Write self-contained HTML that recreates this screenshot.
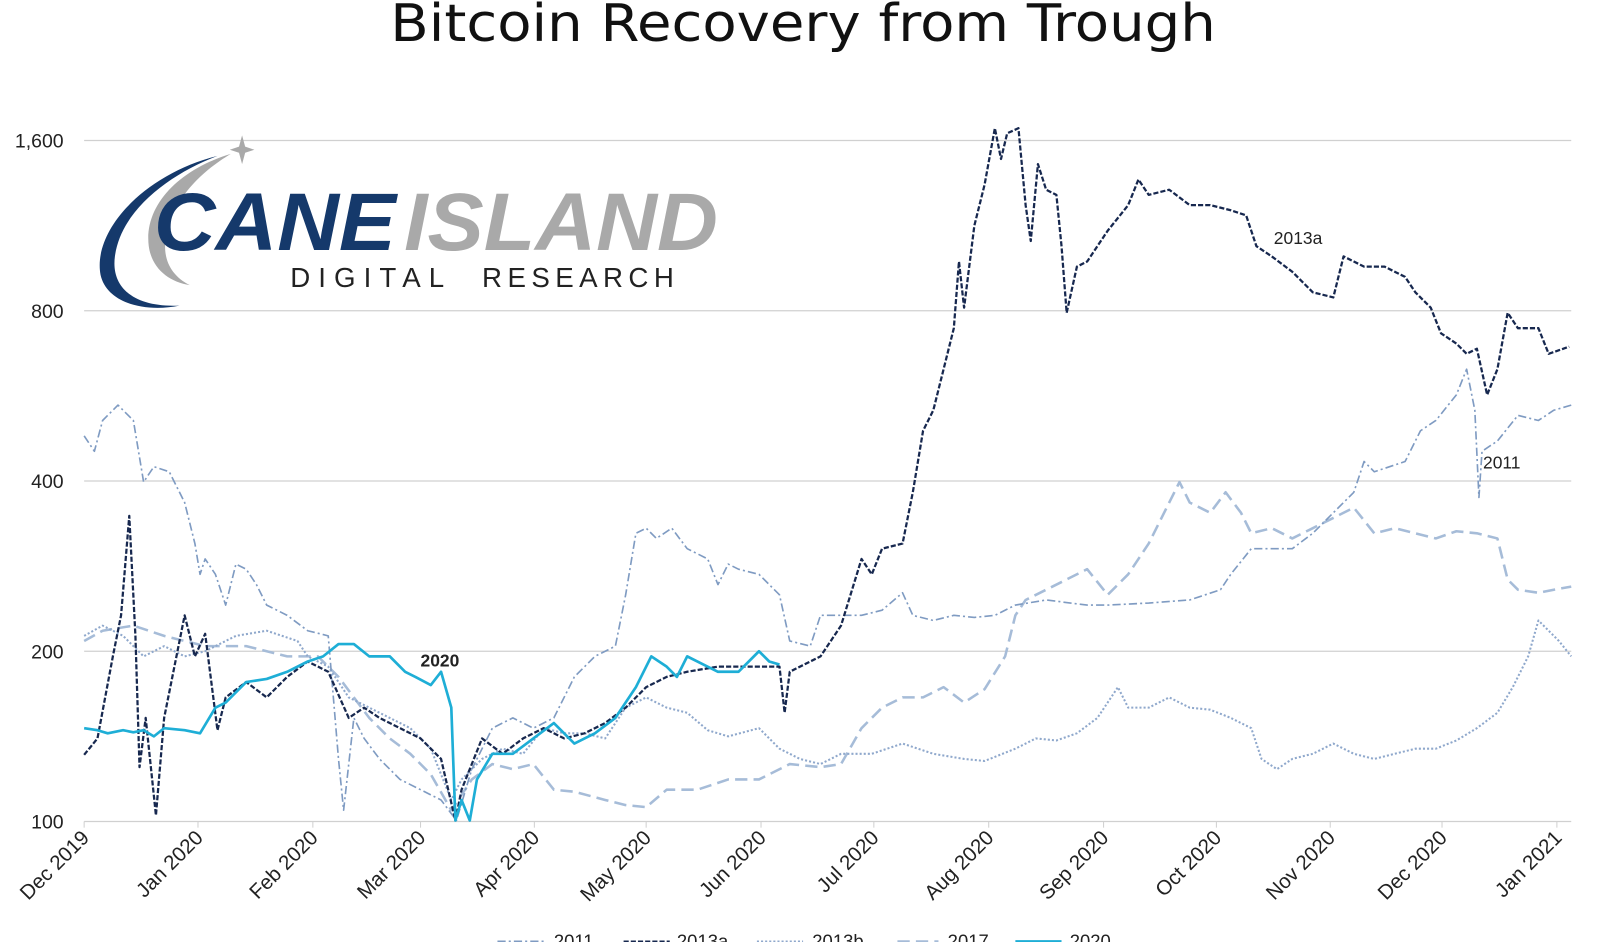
<!DOCTYPE html>
<html><head><meta charset="utf-8"><style>
html,body{margin:0;padding:0;background:#fff;}
svg{display:block;}
text{font-family:"Liberation Sans",sans-serif;}
</style></head><body>
<svg width="1600" height="942" viewBox="0 0 1560 918.5" xmlns="http://www.w3.org/2000/svg">
<rect width="1560" height="918.5" fill="#fff"/>
<text x="783" y="40" font-size="50" text-anchor="middle" fill="#111" style="font-family:'DejaVu Sans',sans-serif" textLength="805" lengthAdjust="spacingAndGlyphs">Bitcoin Recovery from Trough</text>
<g stroke="#d0d0d0" stroke-width="1.3">
<line x1="82" y1="137" x2="1532" y2="137"/><line x1="82" y1="303" x2="1532" y2="303"/>
<line x1="82" y1="469" x2="1532" y2="469"/><line x1="82" y1="635" x2="1532" y2="635"/>
<line x1="82" y1="801" x2="1532" y2="801"/>
<g stroke-width="1">
<line x1="82" y1="801" x2="82" y2="807"/><line x1="193" y1="801" x2="193" y2="807"/><line x1="305" y1="801" x2="305" y2="807"/><line x1="410" y1="801" x2="410" y2="807"/><line x1="521" y1="801" x2="521" y2="807"/><line x1="630" y1="801" x2="630" y2="807"/><line x1="742" y1="801" x2="742" y2="807"/><line x1="852" y1="801" x2="852" y2="807"/><line x1="964" y1="801" x2="964" y2="807"/><line x1="1076" y1="801" x2="1076" y2="807"/><line x1="1186" y1="801" x2="1186" y2="807"/><line x1="1297" y1="801" x2="1297" y2="807"/><line x1="1406" y1="801" x2="1406" y2="807"/><line x1="1518" y1="801" x2="1518" y2="807"/>
</g></g>
<g font-size="19" fill="#222" text-anchor="end">
<text x="62" y="144">1,600</text><text x="62" y="310">800</text><text x="62" y="476">400</text><text x="62" y="642">200</text><text x="62" y="808">100</text>
</g>
<g font-size="20" fill="#222" text-anchor="end">
<text transform="translate(88,818) rotate(-45)">Dec 2019</text>
<text transform="translate(199,818) rotate(-45)">Jan 2020</text>
<text transform="translate(311,818) rotate(-45)">Feb 2020</text>
<text transform="translate(416,818) rotate(-45)">Mar 2020</text>
<text transform="translate(527,818) rotate(-45)">Apr 2020</text>
<text transform="translate(636,818) rotate(-45)">May 2020</text>
<text transform="translate(748,818) rotate(-45)">Jun 2020</text>
<text transform="translate(858,818) rotate(-45)">Jul 2020</text>
<text transform="translate(970,818) rotate(-45)">Aug 2020</text>
<text transform="translate(1082,818) rotate(-45)">Sep 2020</text>
<text transform="translate(1192,818) rotate(-45)">Oct 2020</text>
<text transform="translate(1303,818) rotate(-45)">Nov 2020</text>
<text transform="translate(1412,818) rotate(-45)">Dec 2020</text>
<text transform="translate(1524,818) rotate(-45)">Jan 2021</text>
</g>
<g fill="none" stroke-linejoin="round">
<polyline stroke="#a6bcd8" stroke-width="2.5" stroke-dasharray="12,6" points="82,625 100,615 130,610 160,620 200,630 240,630 280,640 310,640 330,660 360,700 380,720 400,735 420,755 440,790 460,760 480,745 500,750 520,745 540,770 560,772 590,780 610,785 630,787 650,770 680,770 710,760 740,760 770,745 800,748 820,745 840,710 860,690 880,680 900,680 920,670 940,685 960,672 980,640 990,600 1000,585 1020,575 1040,565 1060,555 1080,580 1100,560 1120,530 1140,490 1150,470 1160,490 1180,500 1195,480 1210,500 1220,520 1240,515 1260,525 1280,515 1300,505 1320,495 1340,520 1360,515 1380,520 1400,525 1420,518 1440,520 1460,525 1470,565 1480,575 1500,578 1515,575 1532,572"/>
<polyline stroke="#8fa8cc" stroke-width="2" stroke-dasharray="2,2" points="82,620 100,610 120,620 140,640 160,630 180,640 200,635 230,620 260,615 290,625 300,640 320,650 340,680 360,690 380,700 400,710 420,730 440,780 450,760 470,740 490,730 510,735 530,710 550,715 570,715 590,720 610,690 630,680 650,690 670,695 690,712 710,718 740,710 760,730 780,740 800,745 820,735 850,735 880,725 910,735 940,740 960,742 990,730 1010,720 1030,722 1050,715 1070,700 1090,670 1100,690 1120,690 1140,680 1160,690 1180,692 1200,700 1220,710 1230,740 1245,750 1260,740 1280,735 1300,725 1320,735 1340,740 1360,735 1380,730 1400,730 1420,722 1440,710 1460,695 1475,670 1490,640 1500,605 1510,615 1520,625 1532,640"/>
<polyline stroke="#7f9bc2" stroke-width="1.6" stroke-dasharray="8,3,2,3" points="82,425 92,440 100,410 115,395 130,410 140,470 150,455 165,460 180,490 190,530 195,560 200,545 210,560 220,590 230,550 240,555 250,570 260,590 280,600 300,615 320,620 330,740 335,790 345,700 355,720 370,740 390,760 410,770 430,780 445,800 460,750 480,710 500,700 520,710 540,700 560,660 580,640 600,630 610,580 620,520 630,515 640,525 655,515 670,535 690,545 700,570 710,550 720,555 740,560 760,580 770,625 790,630 800,600 820,600 840,600 860,595 880,578 890,600 910,605 930,600 950,602 970,600 990,590 1020,585 1060,590 1080,590 1120,588 1160,585 1190,575 1200,560 1220,535 1240,535 1260,535 1280,520 1300,500 1320,480 1330,450 1340,460 1370,450 1385,420 1400,410 1420,385 1430,360 1438,400 1442,485 1445,440 1460,430 1480,405 1500,410 1515,400 1532,395"/>
<polyline stroke="#17284f" stroke-width="2.2" stroke-dasharray="5,2" points="82,736 95,720 110,640 118,600 126,503 132,620 136,748 142,700 152,795 160,700 170,650 180,600 190,640 200,618 212,712 220,680 240,665 260,680 280,660 300,645 320,655 340,700 355,690 370,700 390,710 410,720 430,740 444,800 450,770 470,720 490,735 510,720 530,710 550,720 570,715 590,705 610,690 630,670 650,660 670,655 700,650 740,650 760,650 765,695 770,655 800,640 820,610 840,545 850,560 860,535 880,530 890,480 900,420 910,400 920,360 930,320 935,255 940,300 950,220 960,180 970,125 976,155 982,130 993,125 1000,200 1005,235 1012,160 1020,185 1030,190 1035,240 1040,305 1050,260 1060,255 1070,240 1080,225 1100,200 1110,175 1120,190 1140,185 1160,200 1180,200 1200,205 1215,210 1225,240 1240,250 1260,265 1280,285 1300,290 1310,250 1330,260 1350,260 1370,270 1380,285 1395,300 1405,325 1420,335 1430,345 1440,340 1450,385 1460,360 1470,305 1480,320 1500,320 1510,345 1530,338"/>
<polyline stroke="#1eaed6" stroke-width="2.6" points="82,710 95,712 105,715 120,712 130,714 140,712 150,718 160,710 180,712 195,715 210,690 220,685 240,665 260,662 280,655 300,645 315,640 330,628 345,628 360,640 380,640 395,655 405,660 420,668 430,655 440,690 444,800 450,780 458,800 465,760 480,735 500,735 520,720 540,705 560,725 580,715 600,700 620,670 635,640 650,650 660,660 670,640 690,650 700,655 720,655 740,635 750,645 760,648"/>
</g>
<text x="1242" y="238" font-size="17" fill="#222">2013a</text>
<text x="1446" y="457" font-size="17" fill="#222">2011</text>
<text x="410" y="650" font-size="17" font-weight="bold" fill="#222">2020</text>
<!-- logo -->
<g>
<path d="M212,152 C140,170 90,225 98,268 C104,295 140,305 175,298 C130,300 108,280 112,250 C118,205 165,170 212,152 Z" fill="#15396b"/>
<path d="M225,150 C175,165 140,200 145,240 C148,262 165,275 185,278 C165,268 158,250 162,230 C168,195 195,168 225,150 Z" fill="#a9a9a9"/>
<path d="M236,132 L239,143 L248,146 L239,149 L236,160 L233,149 L224,146 L233,143 Z" fill="#a9a9a9"/>
<text x="150" y="244" font-size="80" font-style="italic" font-weight="bold" fill="#15396b" textLength="236" lengthAdjust="spacingAndGlyphs">CANE</text>
<text x="394" y="244" font-size="80" font-style="italic" font-weight="bold" fill="#a9a9a9" textLength="306" lengthAdjust="spacingAndGlyphs">ISLAND</text>
<text x="283" y="280" font-size="27" fill="#222" textLength="150" lengthAdjust="spacing">DIGITAL</text>
<text x="470" y="280" font-size="27" fill="#222" textLength="187" lengthAdjust="spacing">RESEARCH</text>
</g>
<!-- legend -->
<g font-size="18" fill="#222">
<line x1="485" y1="918" x2="530" y2="918" stroke="#7f9bc2" stroke-width="2" stroke-dasharray="8,3,2,3"/><text x="540" y="924">2011</text>
<line x1="608" y1="918" x2="653" y2="918" stroke="#17284f" stroke-width="2" stroke-dasharray="5,2"/><text x="660" y="924">2013a</text>
<line x1="738" y1="918" x2="783" y2="918" stroke="#8fa8cc" stroke-width="2" stroke-dasharray="2,2"/><text x="792" y="924">2013b</text>
<line x1="875" y1="918" x2="915" y2="918" stroke="#a6bcd8" stroke-width="2.5" stroke-dasharray="12,6"/><text x="924" y="924">2017</text>
<line x1="990" y1="918" x2="1035" y2="918" stroke="#1eaed6" stroke-width="2.6"/><text x="1043" y="924">2020</text>
</g>
</svg>
</body></html>
